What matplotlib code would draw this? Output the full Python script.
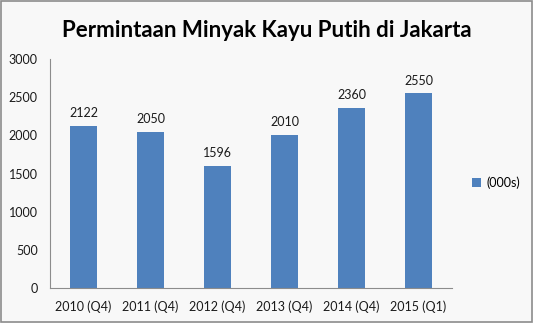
import numpy as np
from matplotlib import pyplot as plt
from matplotlib.patches import Rectangle

plt.rcParams['font.family'] = ['Lato', 'DejaVu Sans']

categories = ["2010 (Q4)", "2011 (Q4)", "2012 (Q4)", "2013 (Q4)", "2014 (Q4)", "2015 (Q1)"]
values = [2122, 2050, 1596, 2010, 2360, 2550]
series_name = "(000s)"

fig = plt.figure(figsize=(5.33, 3.23), dpi=100, facecolor='#f8f8f8')
fig.patches.append(Rectangle((0.002, 0.003), 0.996, 0.994, transform=fig.transFigure,
                             fill=False, edgecolor='#8c8c8c', linewidth=1.2))
ax = fig.add_axes([0.094, 0.108, 0.754, 0.709])
ax.set_facecolor('#f8f8f8')

x = np.arange(len(categories))
bars = ax.bar(x, values, width=0.4, color='#4f81bd', label=series_name)
for xi, v in zip(x, values):
    ax.text(xi, v + 90, str(v), ha='center', va='bottom', fontsize=9, color='#1a1a1a')

ax.set_xlim(-0.5, len(categories) - 0.5)
ax.set_ylim(0, 3000)
ax.set_yticks(np.arange(0, 3001, 500))
ax.set_xticks(x)
ax.set_xticklabels(categories)
ax.tick_params(axis='both', labelsize=9, colors='#1a1a1a', length=0, pad=9)
for s in ['top', 'right']:
    ax.spines[s].set_visible(False)
for s in ['left', 'bottom']:
    ax.spines[s].set_color('#8c8c8c')

fig.text(0.5, 0.905, "Permintaan Minyak Kayu Putih di Jakarta", ha='center', va='center',
         fontsize=16, fontweight='bold', color='black')
fig.legend(handles=[bars], labels=[series_name], loc='center left', bbox_to_anchor=(0.865, 0.435),
           frameon=False, fontsize=9, handlelength=0.7, handleheight=0.7, handletextpad=0.4)

fig.savefig('out.png', dpi=100, facecolor=fig.get_facecolor())
